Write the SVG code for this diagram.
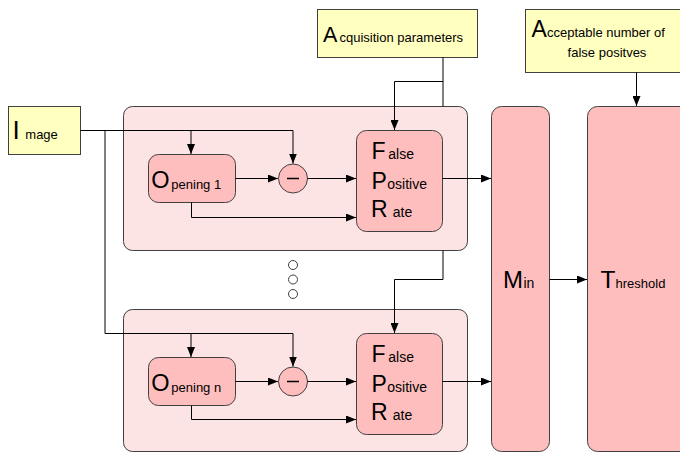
<svg xmlns="http://www.w3.org/2000/svg" width="680" height="452" viewBox="0 0 680 452">
<defs>
<marker id="ah" viewBox="0 0 10 8" refX="10" refY="4" markerWidth="10" markerHeight="8" markerUnits="userSpaceOnUse" orient="auto">
<path d="M0,0 L10,4 L0,8 z" fill="#000"/>
</marker>
<style>
.inp{fill:#ffffc0;stroke:#404040;stroke-width:1}
.grp{fill:#fde4e4;stroke:#404040;stroke-width:1}
.nd{fill:#ffbebe;stroke:#404040;stroke-width:1}
.ln{fill:none;stroke:#000;stroke-width:1}
.ar{fill:none;stroke:#000;stroke-width:1;marker-end:url(#ah)}
text{font-family:"Liberation Sans",Arial,sans-serif;fill:#000}
.big{font-size:23px}
.sm{font-size:14px}
.dot{fill:#fff;stroke:#404040;stroke-width:1}
</style>
</defs>
<g id="group1"><rect class="grp" x="123.5" y="106.5" width="344" height="144" rx="9"/></g>
<g id="group2"><rect class="grp" x="123.5" y="309.5" width="344" height="142" rx="9"/></g>
<g id="image"><rect class="inp" x="8.5" y="106.5" width="72" height="48"/>
<text x="12.6" y="139.3"><tspan style="font-size:26px">I</tspan><tspan x="25.3" style="font-size:13px">mage</tspan></text></g>
<g id="acq"><rect class="inp" x="317.5" y="9.5" width="160" height="48"/>
<text x="323" y="41.7"><tspan style="font-size:21.5px">A</tspan><tspan x="339.5" style="font-size:13px">cquisition parameters</tspan></text></g>
<g id="acc"><rect class="inp" x="525.5" y="9.5" width="170" height="63"/>
<text x="531.5" y="36.5"><tspan style="font-size:23px">A</tspan><tspan x="547" style="font-size:13px">cceptable number of</tspan></text>
<text x="607" y="56.5" text-anchor="middle" style="font-size:13px">false positves</text></g>
<g id="open1"><rect class="nd" x="148.5" y="154.5" width="87" height="48" rx="10"/>
<text x="151.3" y="188"><tspan style="font-size:23.5px">O</tspan><tspan x="171.3" y="188.5" style="font-size:13px">pening 1</tspan></text></g>
<g id="minus1"><circle class="nd" cx="293" cy="178.5" r="14.5"/><line x1="287" y1="178.5" x2="299" y2="178.5" stroke="#000" stroke-width="1.5"/></g>
<g id="fpr1"><rect class="nd" x="356.5" y="130.5" width="86" height="101" rx="10"/>
<text x="371.5" y="159"><tspan class="big">F</tspan><tspan x="388.3" class="sm">alse</tspan></text>
<text x="371.5" y="189"><tspan class="big">P</tspan><tspan x="387.3" class="sm">ositive</tspan></text>
<text x="371" y="217"><tspan class="big">R</tspan><tspan x="392.8" class="sm">ate</tspan></text></g>
<g id="openn"><rect class="nd" x="148.5" y="357.5" width="87" height="48" rx="10"/>
<text x="151.3" y="391"><tspan style="font-size:23.5px">O</tspan><tspan x="171.3" y="391.5" style="font-size:13px">pening n</tspan></text></g>
<g id="minusn"><circle class="nd" cx="293" cy="381.5" r="14.5"/><line x1="287" y1="381.5" x2="299" y2="381.5" stroke="#000" stroke-width="1.5"/></g>
<g id="fprn"><rect class="nd" x="356.5" y="333.5" width="86" height="101" rx="10"/>
<text x="371.5" y="362"><tspan class="big">F</tspan><tspan x="388.3" class="sm">alse</tspan></text>
<text x="371.5" y="392"><tspan class="big">P</tspan><tspan x="387.3" class="sm">ositive</tspan></text>
<text x="371" y="420"><tspan class="big">R</tspan><tspan x="392.8" class="sm">ate</tspan></text></g>
<g id="min"><rect class="nd" x="491.5" y="106.5" width="58" height="345" rx="10"/>
<text x="503" y="288"><tspan style="font-size:24px">M</tspan><tspan x="523.5" class="sm">in</tspan></text></g>
<g id="threshold"><rect class="nd" x="587.5" y="106.5" width="110" height="345" rx="10"/>
<text x="600.5" y="288"><tspan style="font-size:24.5px">T</tspan><tspan x="615.5" style="font-size:13px">hreshold</tspan></text></g>
<g id="dots"><circle class="dot" cx="293" cy="265" r="4.5"/><circle class="dot" cx="293" cy="279.5" r="4.5"/><circle class="dot" cx="293" cy="294" r="4.5"/></g>
<g id="connectors">
<polyline class="ar" points="80.5,130.5 293,130.5 293,163.5"/>
<polyline class="ar" points="191,130.5 191,154"/>
<polyline class="ar" points="105,130.5 105,333.5 293,333.5 293,366.5"/>
<polyline class="ar" points="191,333.5 191,357"/>
<polyline class="ar" points="235.5,178.5 278,178.5"/>
<polyline class="ar" points="307.5,178.5 356,178.5"/>
<polyline class="ar" points="191.5,202.5 191.5,217.5 356,217.5"/>
<polyline class="ar" points="235.5,381.5 278,381.5"/>
<polyline class="ar" points="307.5,381.5 356,381.5"/>
<polyline class="ar" points="191.5,405.5 191.5,419.5 356,419.5"/>
<polyline class="ln" points="443,57.5 443,106.5"/>
<polyline class="ar" points="443,81.5 394.5,81.5 394.5,130"/>
<polyline class="ar" points="443,250.5 443,279.5 394.5,279.5 394.5,333"/>
<polyline class="ar" points="442.5,178.5 491,178.5"/>
<polyline class="ar" points="442.5,381.5 491,381.5"/>
<polyline class="ar" points="549.5,279.5 587,279.5"/>
<polyline class="ar" points="636.5,72.5 636.5,106"/>
</g>
</svg>
